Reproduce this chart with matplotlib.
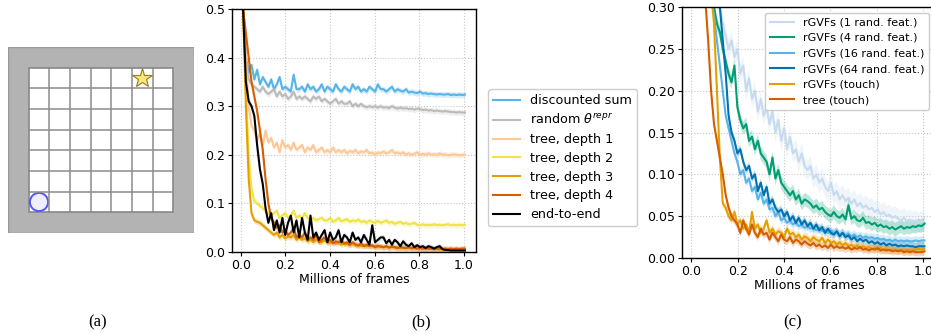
import matplotlib
matplotlib.use("Agg")
import matplotlib.pyplot as plt
import matplotlib.patches as patches
import numpy as np

# ---- panel (b) data ----
disc_sum = [0.50, 0.40, 0.37, 0.385, 0.355, 0.375, 0.345, 0.36, 0.35, 0.34,
            0.355, 0.335, 0.345, 0.36, 0.335, 0.34, 0.335, 0.33, 0.365, 0.335,
            0.335, 0.34, 0.33, 0.345, 0.335, 0.34, 0.33, 0.335, 0.345, 0.33,
            0.34, 0.335, 0.33, 0.345, 0.335, 0.33, 0.34, 0.335, 0.33, 0.345,
            0.335, 0.34, 0.33, 0.335, 0.33, 0.34, 0.335, 0.33, 0.345, 0.335,
            0.335, 0.33, 0.335, 0.34, 0.33, 0.335, 0.332, 0.33, 0.335, 0.328,
            0.33, 0.328, 0.327, 0.33, 0.326, 0.327, 0.325, 0.326, 0.325, 0.324,
            0.325, 0.324, 0.324, 0.325, 0.323, 0.324, 0.323, 0.324, 0.323, 0.324]
rand_theta = [0.50, 0.39, 0.355, 0.345, 0.34, 0.335, 0.33, 0.34, 0.33, 0.325,
              0.33, 0.335, 0.32, 0.33, 0.32, 0.325, 0.315, 0.32, 0.33, 0.315,
              0.32, 0.315, 0.32, 0.315, 0.31, 0.32, 0.315, 0.32, 0.31, 0.315,
              0.31, 0.305, 0.31, 0.315, 0.305, 0.31, 0.305, 0.305, 0.31, 0.30,
              0.305, 0.30, 0.305, 0.30, 0.298, 0.30, 0.298, 0.30, 0.297, 0.30,
              0.297, 0.298, 0.296, 0.30, 0.297, 0.295, 0.297, 0.295, 0.296, 0.294,
              0.295, 0.293, 0.295, 0.294, 0.292, 0.293, 0.291, 0.292, 0.29, 0.291,
              0.29, 0.289, 0.29, 0.289, 0.288, 0.288, 0.287, 0.288, 0.287, 0.287]
depth1 = [0.50, 0.40, 0.30, 0.26, 0.25, 0.23, 0.245, 0.22, 0.25, 0.225,
          0.235, 0.215, 0.225, 0.205, 0.23, 0.215, 0.22, 0.21, 0.225, 0.21,
          0.215, 0.22, 0.205, 0.215, 0.21, 0.22, 0.205, 0.21, 0.215, 0.205,
          0.21, 0.205, 0.215, 0.205, 0.21, 0.205, 0.21, 0.203, 0.208, 0.205,
          0.21, 0.203, 0.207, 0.205, 0.21, 0.203, 0.205, 0.2, 0.205, 0.203,
          0.207, 0.203, 0.205, 0.21, 0.203, 0.205, 0.202, 0.205, 0.2, 0.203,
          0.2, 0.202, 0.205, 0.2, 0.202, 0.2, 0.203, 0.2, 0.201, 0.2,
          0.203, 0.2, 0.201, 0.199, 0.2, 0.201, 0.2, 0.199, 0.2, 0.2]
depth2 = [0.50, 0.33, 0.20, 0.13, 0.105, 0.10, 0.095, 0.09, 0.085, 0.08,
          0.075, 0.08, 0.085, 0.07, 0.075, 0.08, 0.07, 0.075, 0.085, 0.07,
          0.075, 0.07, 0.08, 0.07, 0.065, 0.07, 0.065, 0.068, 0.07, 0.065,
          0.065, 0.07, 0.062, 0.065, 0.07, 0.063, 0.065, 0.068, 0.062, 0.065,
          0.063, 0.067, 0.062, 0.064, 0.06, 0.065, 0.062, 0.06, 0.064, 0.06,
          0.062, 0.065, 0.06, 0.062, 0.058, 0.06, 0.062, 0.058, 0.06, 0.057,
          0.058, 0.06, 0.056, 0.055, 0.057, 0.055, 0.056, 0.055, 0.057, 0.055,
          0.056, 0.055, 0.056, 0.057, 0.055, 0.056, 0.055, 0.056, 0.055, 0.056]
depth3 = [0.50, 0.30, 0.15, 0.08, 0.065, 0.062, 0.06, 0.055, 0.05, 0.045,
          0.04, 0.035, 0.04, 0.03, 0.035, 0.028, 0.032, 0.03, 0.035, 0.025,
          0.03, 0.025, 0.028, 0.022, 0.026, 0.02, 0.025, 0.022, 0.02, 0.024,
          0.02, 0.018, 0.022, 0.017, 0.02, 0.015, 0.018, 0.016, 0.014, 0.017,
          0.013, 0.015, 0.012, 0.014, 0.012, 0.013, 0.011, 0.012, 0.01, 0.012,
          0.01, 0.011, 0.009, 0.011, 0.009, 0.01, 0.008, 0.009, 0.008, 0.009,
          0.007, 0.008, 0.007, 0.008, 0.006, 0.007, 0.006, 0.007, 0.006, 0.006,
          0.005, 0.006, 0.005, 0.006, 0.005, 0.005, 0.005, 0.005, 0.005, 0.005]
depth4 = [0.50, 0.45, 0.40, 0.35, 0.32, 0.29, 0.25, 0.21, 0.15, 0.10,
          0.07, 0.06, 0.05, 0.055, 0.04, 0.045, 0.035, 0.04, 0.05, 0.03,
          0.035, 0.03, 0.04, 0.025, 0.03, 0.025, 0.035, 0.02, 0.025, 0.03,
          0.02, 0.025, 0.018, 0.022, 0.02, 0.025, 0.017, 0.02, 0.015, 0.02,
          0.016, 0.013, 0.018, 0.012, 0.015, 0.012, 0.014, 0.01, 0.013, 0.011,
          0.01, 0.012, 0.009, 0.011, 0.01, 0.008, 0.01, 0.009, 0.008, 0.01,
          0.008, 0.009, 0.007, 0.008, 0.007, 0.008, 0.007, 0.007, 0.006, 0.007,
          0.007, 0.006, 0.007, 0.006, 0.007, 0.006, 0.007, 0.006, 0.007, 0.007]
end_to_end = [0.50, 0.35, 0.31, 0.30, 0.28, 0.22, 0.17, 0.14, 0.09, 0.06,
              0.08, 0.045, 0.065, 0.04, 0.07, 0.035, 0.06, 0.075, 0.04, 0.065,
              0.03, 0.07, 0.04, 0.025, 0.075, 0.03, 0.04, 0.025, 0.035, 0.045,
              0.02, 0.04, 0.025, 0.03, 0.045, 0.02, 0.035, 0.03, 0.02, 0.04,
              0.025, 0.03, 0.02, 0.035, 0.025, 0.015, 0.055, 0.02, 0.025, 0.03,
              0.03, 0.018, 0.025, 0.015, 0.025, 0.02, 0.012, 0.022, 0.015, 0.012,
              0.018, 0.01, 0.014, 0.01, 0.012, 0.008, 0.012, 0.01, 0.007, 0.01,
              0.012, 0.006, 0.004, 0.004, 0.003, 0.003, 0.003, 0.003, 0.003, 0.003]

labels_b = ["discounted sum", r"random $\theta^{repr}$", "tree, depth 1",
            "tree, depth 2", "tree, depth 3", "tree, depth 4", "end-to-end"]
colors_b = ["#56b4e9", "#bbbbbb", "#fdc897", "#f0e442", "#e69f00", "#d55e00", "#000000"]
series_b = [disc_sum, rand_theta, depth1, depth2, depth3, depth4, end_to_end]

# ---- panel (c) data ----
gvf1 = [0.60, 0.55, 0.50, 0.45, 0.40, 0.37, 0.34, 0.32, 0.31, 0.30,
        0.28, 0.265, 0.25, 0.26, 0.24, 0.25, 0.22, 0.23, 0.2, 0.215,
        0.19, 0.2, 0.175, 0.19, 0.17, 0.18, 0.16, 0.175, 0.15, 0.165,
        0.14, 0.155, 0.13, 0.145, 0.125, 0.13, 0.115, 0.125, 0.11, 0.105,
        0.11, 0.095, 0.1, 0.09, 0.095, 0.085, 0.08, 0.09, 0.075, 0.08,
        0.07, 0.075, 0.068, 0.072, 0.065, 0.07, 0.062, 0.066, 0.06, 0.063,
        0.058, 0.06, 0.055, 0.058, 0.052, 0.055, 0.05, 0.052, 0.048, 0.05,
        0.047, 0.045, 0.048, 0.044, 0.046, 0.043, 0.045, 0.042, 0.044, 0.042]
gvf4 = [0.60, 0.52, 0.46, 0.40, 0.36, 0.33, 0.31, 0.30, 0.28, 0.27,
        0.25, 0.235, 0.22, 0.21, 0.23, 0.18, 0.165, 0.155, 0.16, 0.14,
        0.145, 0.13, 0.14, 0.125, 0.12, 0.115, 0.1, 0.12, 0.095, 0.105,
        0.09, 0.085, 0.08, 0.075, 0.08, 0.07, 0.075, 0.065, 0.07, 0.068,
        0.065, 0.06, 0.063, 0.058, 0.06, 0.055, 0.052, 0.05, 0.055, 0.05,
        0.048, 0.052, 0.046, 0.063, 0.047, 0.05, 0.045, 0.044, 0.048, 0.042,
        0.043, 0.04, 0.042, 0.038, 0.04, 0.037, 0.038, 0.035, 0.037, 0.034,
        0.036, 0.038, 0.035, 0.037, 0.036, 0.038, 0.037, 0.039, 0.038, 0.041]
gvf16 = [0.60, 0.52, 0.46, 0.40, 0.36, 0.33, 0.31, 0.29, 0.26, 0.23,
         0.20, 0.17, 0.155, 0.14, 0.125, 0.115, 0.1, 0.105, 0.09, 0.095,
         0.08, 0.085, 0.07, 0.078, 0.065, 0.07, 0.058, 0.06, 0.05, 0.055,
         0.045, 0.048, 0.042, 0.045, 0.04, 0.043, 0.038, 0.04, 0.036, 0.038,
         0.035, 0.036, 0.033, 0.036, 0.032, 0.034, 0.03, 0.033, 0.03, 0.031,
         0.028, 0.03, 0.027, 0.029, 0.026, 0.028, 0.025, 0.027, 0.024, 0.026,
         0.024, 0.025, 0.023, 0.024, 0.022, 0.023, 0.021, 0.022, 0.02, 0.022,
         0.02, 0.021, 0.02, 0.021, 0.02, 0.02, 0.021, 0.02, 0.021, 0.021]
gvf64 = [0.60, 0.53, 0.47, 0.42, 0.38, 0.35, 0.33, 0.32, 0.31, 0.30,
         0.26, 0.22, 0.17, 0.15, 0.14, 0.125, 0.13, 0.115, 0.105, 0.11,
         0.095, 0.1, 0.08, 0.09, 0.075, 0.085, 0.065, 0.07, 0.06, 0.055,
         0.058, 0.05, 0.055, 0.045, 0.05, 0.042, 0.048, 0.04, 0.045, 0.038,
         0.042, 0.035, 0.04, 0.033, 0.037, 0.03, 0.035, 0.03, 0.028, 0.032,
         0.026, 0.03, 0.025, 0.027, 0.022, 0.025, 0.02, 0.023, 0.02, 0.022,
         0.018, 0.02, 0.017, 0.019, 0.016, 0.018, 0.015, 0.017, 0.015, 0.016,
         0.014, 0.015, 0.014, 0.015, 0.014, 0.014, 0.013, 0.014, 0.014, 0.014]
gvf_touch = [0.60, 0.55, 0.50, 0.45, 0.40, 0.35, 0.32, 0.28, 0.20, 0.12,
             0.065, 0.06, 0.05, 0.045, 0.055, 0.04, 0.045, 0.035, 0.04, 0.03,
             0.055, 0.035, 0.04, 0.03, 0.035, 0.045, 0.03, 0.035, 0.028, 0.032,
             0.03, 0.025, 0.035, 0.028, 0.03, 0.025, 0.028, 0.022, 0.026, 0.024,
             0.02, 0.025, 0.022, 0.02, 0.024, 0.018, 0.022, 0.018, 0.02, 0.016,
             0.019, 0.015, 0.018, 0.014, 0.016, 0.013, 0.015, 0.012, 0.014, 0.012,
             0.013, 0.011, 0.012, 0.01, 0.012, 0.01, 0.011, 0.009, 0.01, 0.01,
             0.009, 0.01, 0.009, 0.01, 0.009, 0.01, 0.01, 0.011, 0.01, 0.011]
tree_touch = [0.55, 0.48, 0.42, 0.36, 0.31, 0.26, 0.20, 0.16, 0.14, 0.12,
              0.10, 0.075, 0.06, 0.05, 0.045, 0.04, 0.03, 0.045, 0.035, 0.028,
              0.04, 0.03, 0.025, 0.035, 0.028, 0.03, 0.022, 0.03, 0.025, 0.02,
              0.028, 0.022, 0.02, 0.025, 0.018, 0.022, 0.02, 0.016, 0.02, 0.017,
              0.015, 0.018, 0.014, 0.016, 0.013, 0.015, 0.012, 0.016, 0.012, 0.014,
              0.012, 0.013, 0.011, 0.013, 0.01, 0.012, 0.011, 0.013, 0.01, 0.011,
              0.009, 0.011, 0.01, 0.012, 0.009, 0.01, 0.009, 0.01, 0.008, 0.009,
              0.008, 0.009, 0.007, 0.008, 0.007, 0.008, 0.007, 0.007, 0.007, 0.008]

labels_c = ["rGVFs (1 rand. feat.)", "rGVFs (4 rand. feat.)", "rGVFs (16 rand. feat.)",
            "rGVFs (64 rand. feat.)", "rGVFs (touch)", "tree (touch)"]
colors_c = ["#c6dbef", "#009e73", "#56b4e9", "#0072b2", "#e69f00", "#d55e00"]
series_c = [gvf1, gvf4, gvf16, gvf64, gvf_touch, tree_touch]
spread_c = [0.012, 0.008, 0.005, 0.005, 0.005, 0.005]

W, H = 931, 334
fig = plt.figure(figsize=(W / 100, H / 100), dpi=100)


def box(l, t, r, b):
    return [l / W, 1 - b / H, (r - l) / W, (b - t) / H]


def style(ax):
    ax.grid(True, linestyle=":", color="#c8c8c8", linewidth=0.8)
    ax.set_axisbelow(True)
    ax.tick_params(labelsize=9, length=3, width=0.8, pad=2)
    for s in ax.spines.values():
        s.set_color("black")
        s.set_linewidth(1.0)
    ax.set_xlabel("Millions of frames", fontsize=9, labelpad=1)


# ---- (a) gridworld ----
axa = fig.add_axes(box(8, 47, 194, 233))
axa.set_xlim(0, 9)
axa.set_ylim(0, 9)
axa.axis("off")
axa.add_patch(patches.Rectangle((0, 0), 9, 9, facecolor="#b3b3b3", edgecolor="#999999", lw=1))
axa.add_patch(patches.Rectangle((1, 1), 7, 7, facecolor="white", edgecolor="#888888", lw=1.2))
for k in range(2, 8):
    axa.plot([k, k], [1, 8], color="#8c8c8c", lw=1.1)
    axa.plot([1, 8], [k, k], color="#8c8c8c", lw=1.1)
axa.plot(6.5, 7.5, marker="*", markersize=15, markerfacecolor="#f7e87a",
         markeredgecolor="#9a7a20", markeredgewidth=0.8)
axa.add_patch(patches.Circle((1.5, 1.5), 0.44, facecolor="#eeeeff", edgecolor="#5555ff", lw=1.4))

# ---- (b) ----
axb = fig.add_axes(box(232, 9, 476, 252))
for ys, col, lab in zip(series_b, colors_b, labels_b):
    ys = np.array(ys)
    xs = np.linspace(0.01, 1.005, len(ys))
    axb.fill_between(xs, ys - 0.006, ys + 0.006, color=col if col != "#000000" else "#999999",
                     alpha=0.25, lw=0)
    axb.plot(xs, ys, color=col, lw=1.5, label=lab)
axb.set_ylim(0, 0.5)
axb.set_yticks([0.0, 0.1, 0.2, 0.3, 0.4, 0.5])
axb.set_xticks([0.0, 0.2, 0.4, 0.6, 0.8, 1.0])
style(axb)
fig.legend(*axb.get_legend_handles_labels(), loc="upper left",
           bbox_to_anchor=(488 / W, 1 - 89 / H), borderaxespad=0, fontsize=9.2,
           handlelength=2.1, labelspacing=0.45, framealpha=1, edgecolor="#cccccc")

# ---- (c) ----
axc = fig.add_axes(box(682, 7, 936, 258))
for ys, col, lab, sp in zip(series_c, colors_c, labels_c, spread_c):
    ys = np.array(ys)
    xs = np.linspace(0.01, 1.005, len(ys))
    axc.fill_between(xs, ys - sp, ys + sp, color=col, alpha=0.25, lw=0)
    axc.plot(xs, ys, color=col, lw=1.5, label=lab)
axc.set_ylim(0, 0.3)
axc.set_yticks([0.0, 0.05, 0.10, 0.15, 0.20, 0.25, 0.30])
axc.set_yticklabels(["0.00", "0.05", "0.10", "0.15", "0.20", "0.25", "0.30"])
axc.set_xticks([0.0, 0.2, 0.4, 0.6, 0.8, 1.0])
style(axc)
fig.legend(*axc.get_legend_handles_labels(), loc="upper right",
           bbox_to_anchor=(929 / W, 1 - 13 / H), borderaxespad=0, fontsize=8,
           handlelength=2.2, labelspacing=0.5, framealpha=1, edgecolor="#cccccc")

for lab, xp in [("(a)", 98), ("(b)", 421), ("(c)", 793)]:
    fig.text(xp / W, 1 - 322 / H, lab, ha="center", va="center",
             fontsize=12, family="Liberation Serif")

fig.savefig("out.png", dpi=100)
